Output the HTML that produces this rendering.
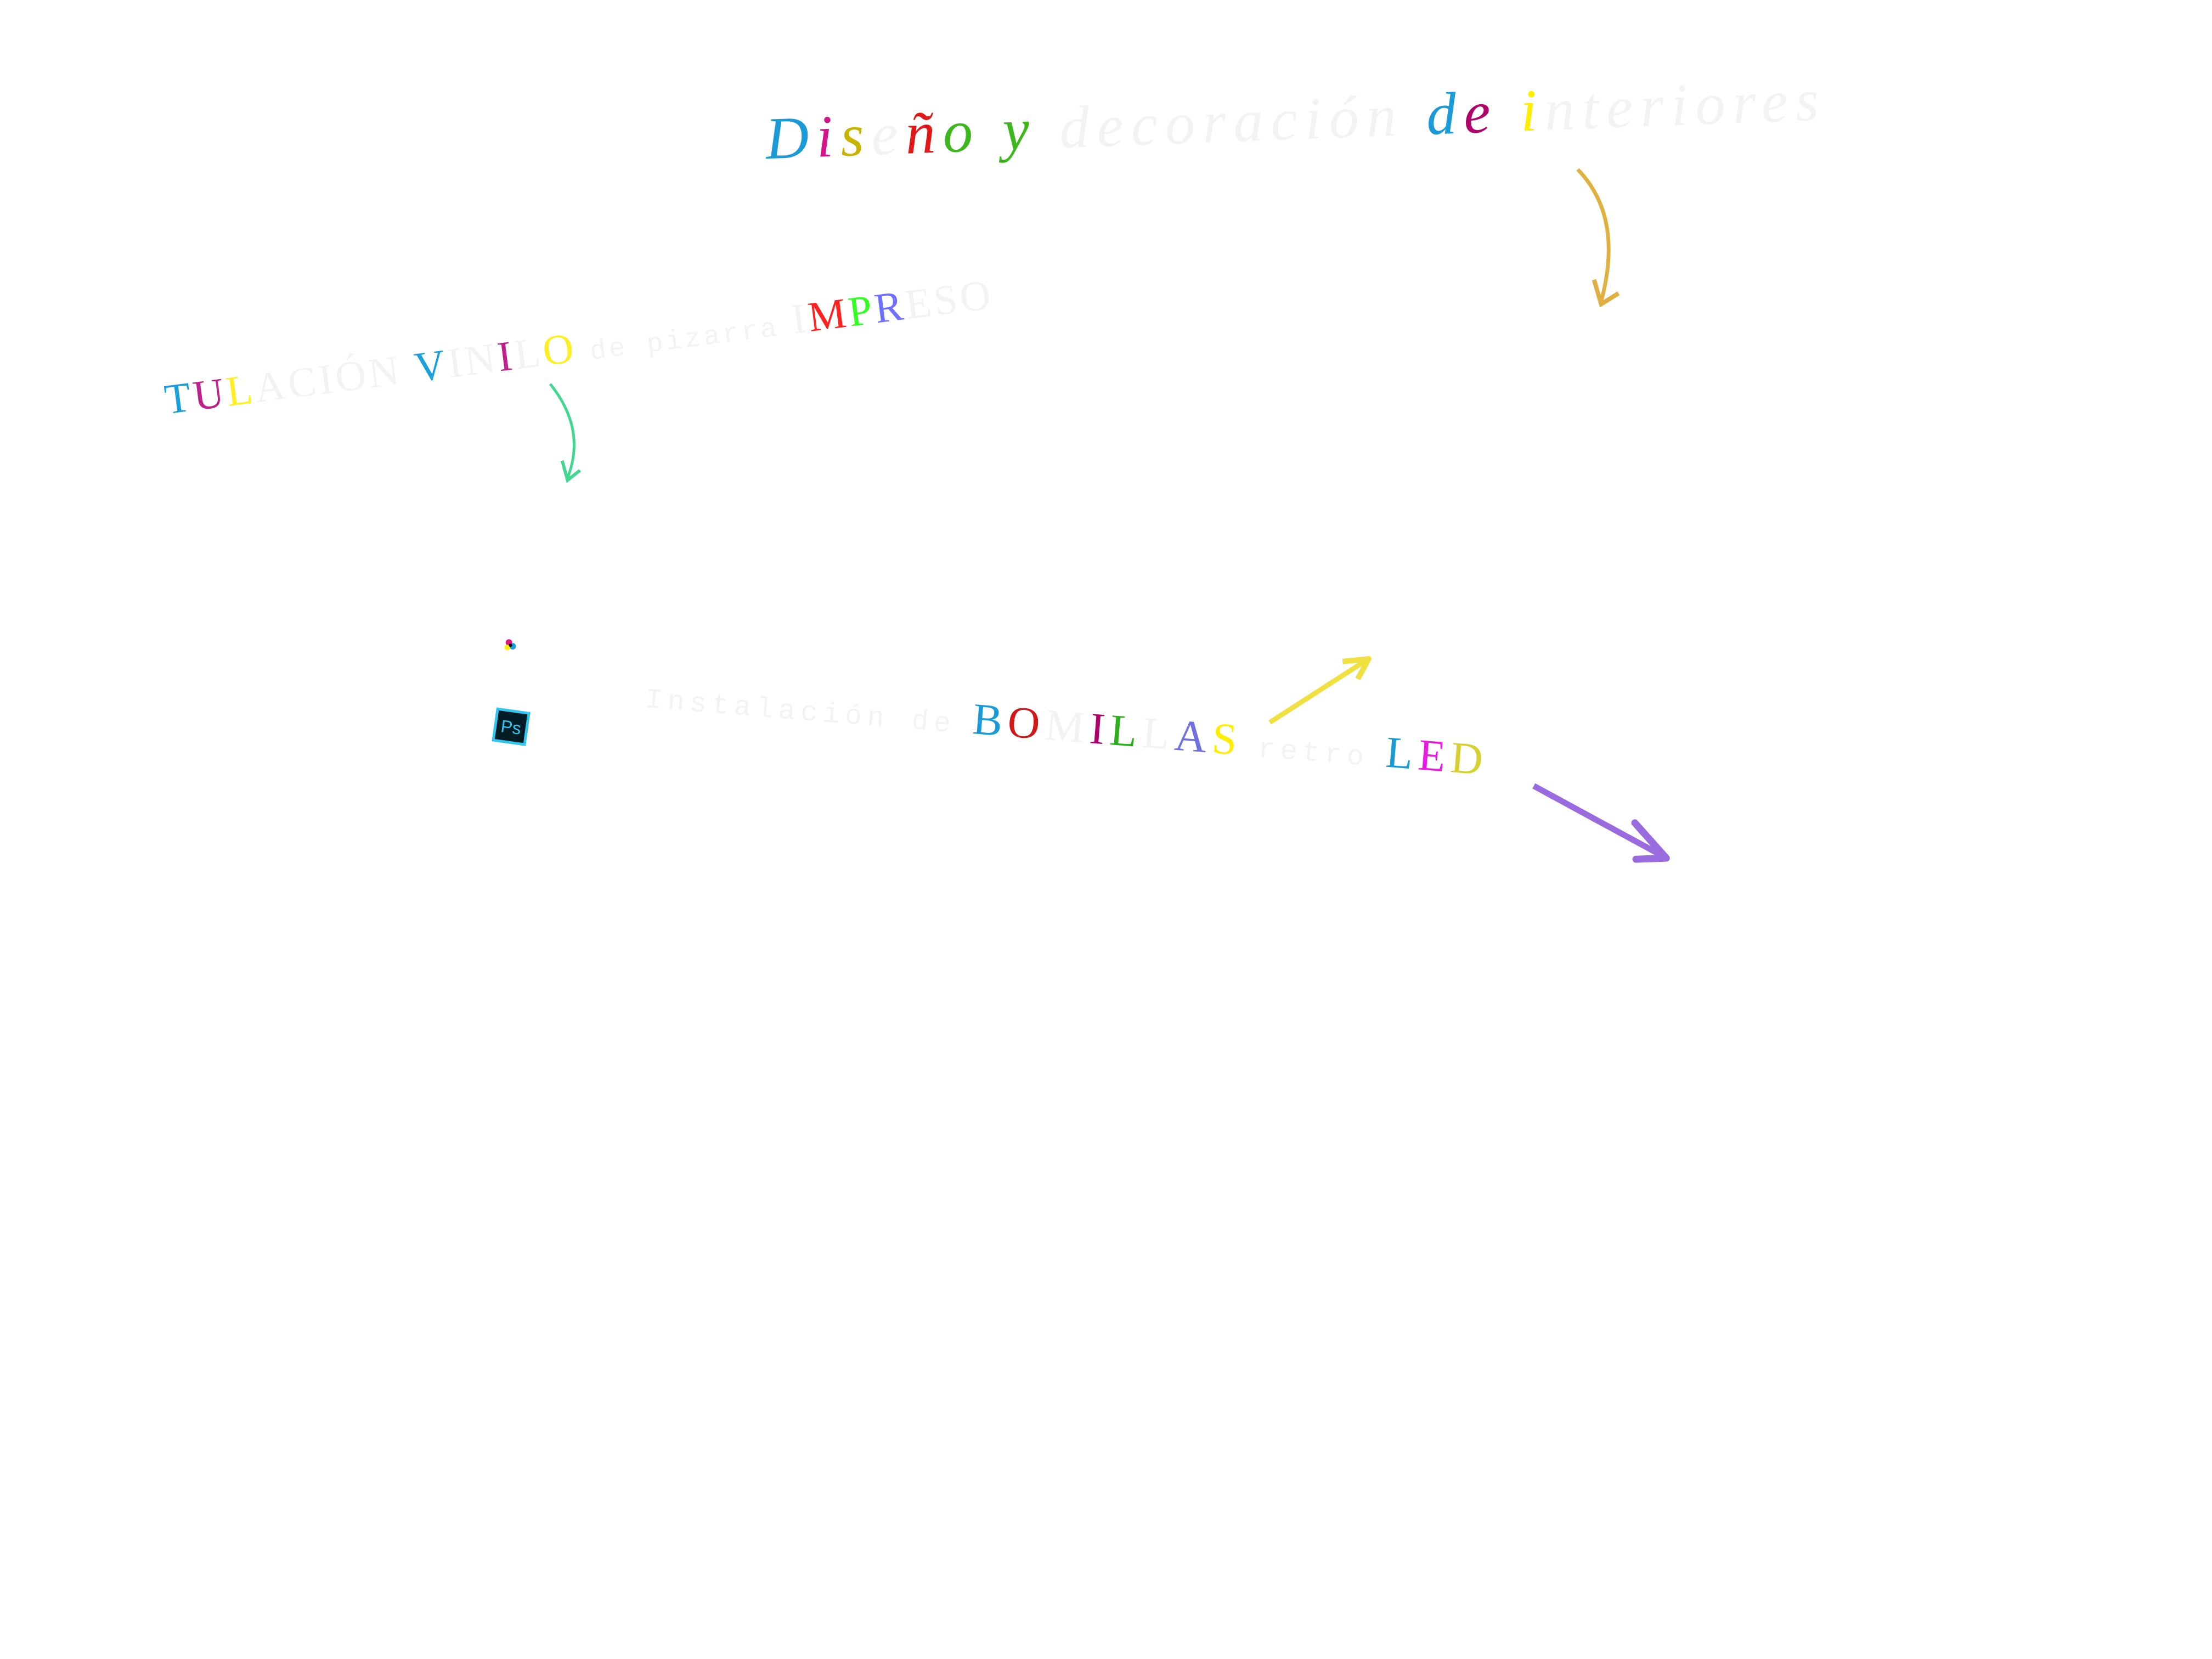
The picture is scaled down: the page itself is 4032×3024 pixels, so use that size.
<!DOCTYPE html>
<html><head><meta charset="utf-8"><style>
html,body{margin:0;padding:0;background:#fff;width:4032px;height:3024px;overflow:hidden}
svg{display:block}
.f{fill:#f3f3f3}
</style></head><body>
<svg width="4032" height="3024" viewBox="0 0 4032 3024" xmlns="http://www.w3.org/2000/svg">
<g transform="scale(0.99)">
<!-- Title -->
<text x="1411" y="292" transform="rotate(-2.1 1411 292)" font-family="Liberation Serif, serif" font-style="italic" font-size="110" textLength="1940" lengthAdjust="spacing"><tspan fill="#1a9ad6">D</tspan><tspan fill="#d4148a">i</tspan><tspan fill="#c8b400">s</tspan><tspan class="f">e</tspan><tspan fill="#e01818">ñ</tspan><tspan fill="#3cb81c">o</tspan> <tspan fill="#3cb81c">y</tspan> <tspan class="f">decoración</tspan> <tspan fill="#1a9ad6">d</tspan><tspan fill="#b0006a">e</tspan> <tspan fill="#ffee00">i</tspan><tspan class="f">nteriores</tspan></text>
<!-- gold arrow -->
<path d="M2905,312 Q2990,400 2948,555" fill="none" stroke="#e0b040" stroke-width="7"/>
<path d="M2935,515 L2948,560 L2980,540" fill="none" stroke="#e0b040" stroke-width="8"/>
<!-- Text 2 -->
<text x="307" y="762" transform="rotate(-7.3 307 762)" font-family="Liberation Serif, serif" font-size="78" textLength="1532" lengthAdjust="spacing"><tspan fill="#1aa0dc">T</tspan><tspan fill="#c0208a">U</tspan><tspan fill="#ffee22">L</tspan><tspan class="f">ACIÓN</tspan> <tspan fill="#1aa0dc">V</tspan><tspan class="f">IN</tspan><tspan fill="#c0208a">I</tspan><tspan class="f">L</tspan><tspan fill="#ffee22">O</tspan> <tspan class="f" font-size="50" font-family="Liberation Mono, monospace">de pizarra</tspan> <tspan class="f">I</tspan><tspan fill="#ff2020">M</tspan><tspan fill="#30ff20">P</tspan><tspan fill="#7070ff">R</tspan><tspan class="f">ESO</tspan></text>
<!-- green arrow -->
<path d="M1013,707 Q1080,790 1045,880" fill="none" stroke="#40d890" stroke-width="5"/>
<path d="M1035,848 L1045,884 L1068,866" fill="none" stroke="#40d890" stroke-width="6"/>
<!-- CMYK dot -->
<circle cx="937" cy="1183" r="6" fill="#e0147c"/><circle cx="944" cy="1190" r="6" fill="#1aa0dc"/><circle cx="934" cy="1192" r="5" fill="#ffee00"/><circle cx="940" cy="1188" r="3" fill="#000"/>
<!-- Ps icon -->
<g transform="rotate(8 941 1338)"><rect x="912" y="1309" width="58" height="58" fill="#001d26" stroke="#31c5f0" stroke-width="5"/><text x="941" y="1350" text-anchor="middle" font-family="Liberation Sans, sans-serif" font-size="32" fill="#31c5f0">Ps</text></g>
<!-- Text 3 -->
<text x="1187" y="1302" transform="rotate(4.6 1187 1302)" font-family="Liberation Serif, serif" font-size="82" textLength="1546" lengthAdjust="spacing"><tspan class="f" font-size="52" font-family="Liberation Mono, monospace">Instalación de</tspan> <tspan fill="#1a9ad6">B</tspan><tspan fill="#d01818">O</tspan><tspan class="f">M</tspan><tspan fill="#b0006a">I</tspan><tspan fill="#2cb01c">L</tspan><tspan class="f">L</tspan><tspan fill="#7070e0">A</tspan><tspan fill="#ffee00">S</tspan> <tspan class="f" font-size="52" font-family="Liberation Mono, monospace">retro</tspan> <tspan fill="#1a9ad6">L</tspan><tspan fill="#e81ce0">E</tspan><tspan fill="#d8d030">D</tspan></text>
<!-- yellow arrow -->
<path d="M2338,1330 L2515,1216" stroke="#f0e040" stroke-width="9" fill="none"/>
<path d="M2472,1218 L2520,1213 L2500,1250" fill="none" stroke="#f0e040" stroke-width="10" stroke-linejoin="round"/>
<!-- purple arrow -->
<path d="M2824,1447 L3065,1578" stroke="#9a6adf" stroke-width="11" fill="none"/>
<path d="M3010,1515 L3068,1580 L3012,1582" fill="none" stroke="#9a6adf" stroke-width="13" stroke-linejoin="round" stroke-linecap="round"/>
</g>
</svg>
</body></html>
